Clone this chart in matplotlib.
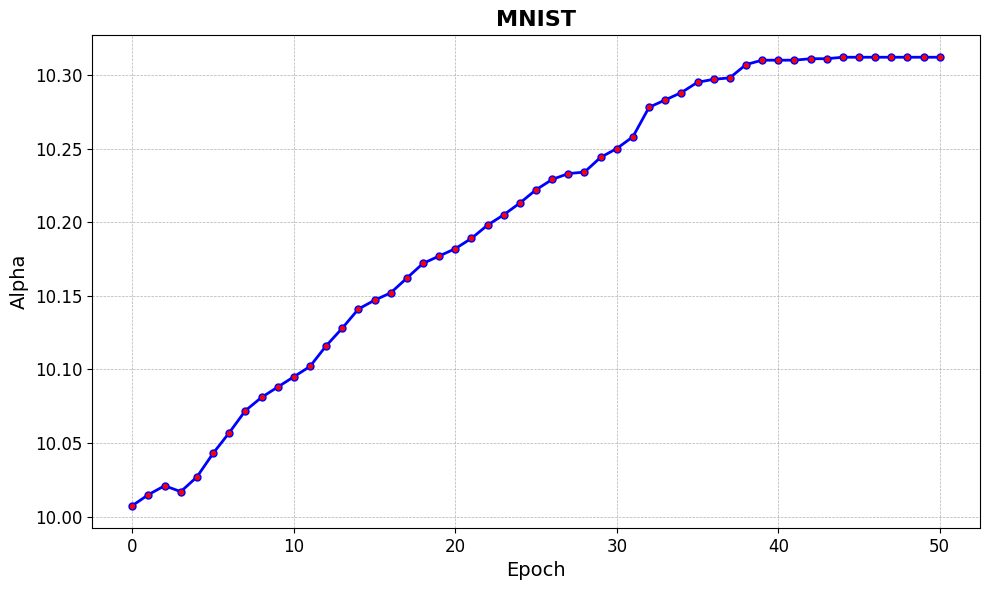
import matplotlib
matplotlib.use("Agg")
import matplotlib.pyplot as plt

# alpha value per epoch
epochs = list(range(51))
alpha = [
    10.0075, 10.015, 10.021, 10.017, 10.027, 10.043, 10.057, 10.072, 10.081, 10.088,
    10.095, 10.102, 10.116, 10.128, 10.141, 10.147, 10.152, 10.162, 10.172, 10.177,
    10.182, 10.189, 10.198, 10.205, 10.213, 10.222, 10.229, 10.233, 10.234, 10.244,
    10.250, 10.258, 10.278, 10.283, 10.288, 10.295, 10.297, 10.298, 10.307, 10.310,
    10.310, 10.310, 10.311, 10.311, 10.312, 10.312, 10.312, 10.312, 10.312, 10.312,
    10.312,
]

fig, ax = plt.subplots(figsize=(9.89, 5.9), dpi=100)
ax.plot(epochs, alpha, color='blue', linewidth=2, marker='o',
        markersize=5, markerfacecolor='red', markeredgecolor='blue')

ax.set_title('MNIST', fontsize=16, fontweight='bold')
ax.set_xlabel('Epoch', fontsize=14)
ax.set_ylabel('Alpha', fontsize=14)
ax.tick_params(axis='both', labelsize=12)
ax.grid(True, linestyle='--', linewidth=0.5, color='gray', alpha=0.6)

fig.subplots_adjust(left=0.093, right=0.991, top=0.941, bottom=0.105)
plt.savefig('out.png')
